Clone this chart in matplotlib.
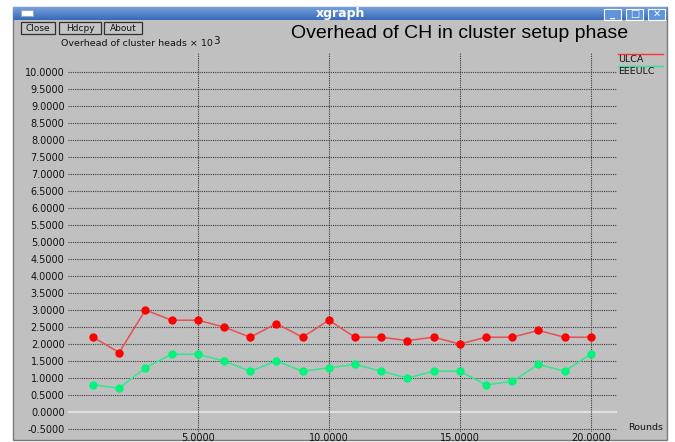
import numpy as np
import matplotlib.pyplot as plt
from matplotlib.patches import Rectangle

plt.rcParams['font.family'] = ['DejaVu Sans']

# data
rounds = list(range(1, 21))
ulca = [2.2, 1.75, 3.0, 2.7, 2.7, 2.5, 2.2, 2.6, 2.2, 2.7,
        2.2, 2.2, 2.1, 2.2, 2.0, 2.2, 2.2, 2.4, 2.2, 2.2]
eeeulc = [0.8, 0.7, 1.3, 1.7, 1.7, 1.5, 1.2, 1.5, 1.2, 1.3,
          1.4, 1.2, 1.0, 1.2, 1.2, 0.8, 0.9, 1.4, 1.2, 1.7]
yticks = np.arange(-0.5, 10.01, 0.5)
xticks = [5, 10, 15, 20]
series_names = ['ULCA', 'EEEULC']

W, H = 675, 442
fig = plt.figure(figsize=(W / 100, H / 100), dpi=100)
fig.patch.set_facecolor('white')

# window chrome, drawn in pixel coords
bg = fig.add_axes([0, 0, 1, 1])
bg.set_xlim(0, W)
bg.set_ylim(H, 0)
bg.axis('off')

bg.add_patch(Rectangle((13, 7), 654, 433, facecolor='#c0c0c0', edgecolor='#7a7a7a', lw=1))
top_c = np.array([0.45, 0.62, 0.86])
bot_c = np.array([0.22, 0.42, 0.72])
for i in range(13):
    c = top_c + (bot_c - top_c) * i / 12
    bg.add_patch(Rectangle((13, 7 + i), 654, 1.05, facecolor=c, edgecolor='none'))
bg.add_patch(Rectangle((21, 10), 12, 6, facecolor='white', edgecolor='#9aa8c0', lw=0.8))
bg.text(340, 13.5, 'xgraph', color='white', fontsize=9, fontweight='bold',
        ha='center', va='center')
for x0, glyph in zip([604, 626, 648], ['_', '□', '✕']):
    bg.add_patch(Rectangle((x0, 8.5), 17, 11, facecolor='#5f93dc', edgecolor='white', lw=0.8))
    bg.text(x0 + 8.5, 14, glyph, color='white', fontsize=7, fontweight='bold',
            ha='center', va='center')

for (x0, x1), lab in zip([(21, 55), (59, 101), (104, 142)], ['Close', 'Hdcpy', 'About']):
    bg.add_patch(Rectangle((x0, 22), x1 - x0, 12, facecolor='#c4c4c4', edgecolor='#303030', lw=0.9))
    bg.text((x0 + x1) / 2, 28.3, lab, fontsize=6.5, ha='center', va='center', color='#111111')

bg.text(291, 34, 'Overhead of CH in cluster setup phase', fontsize=14,
        ha='left', va='center', color='black', family=['Liberation Sans'])
yl = bg.text(61, 43.5, 'Overhead of cluster heads × 10', fontsize=6.8,
             ha='left', va='center', color='#111111')
bg.annotate('3', xy=(1, 0.8), xycoords=yl, fontsize=7.5, ha='left', va='center',
            color='#111111')

# legend at the right
bg.plot([618, 663], [54, 54], color='#ff3030', lw=1)
bg.text(618, 59.5, series_names[0], fontsize=6.8, ha='left', va='center', color='#111111')
bg.plot([618, 663], [65.5, 65.5], color='#30e890', lw=1)
bg.text(618, 71.5, series_names[1], fontsize=6.8, ha='left', va='center', color='#111111')
bg.text(628, 427, 'Rounds', fontsize=6.8, ha='left', va='center', color='#111111')

# plotting area
L, T, R, B = 68, 52, 617, 432
ax = fig.add_axes([L / W, 1 - B / H, (R - L) / W, (B - T) / H])
ax.set_facecolor('none')
ax.set_xlim(0.046, 21.0)
ax.set_ylim(-0.588, 10.588)
for s in ax.spines.values():
    s.set_visible(False)

for y in yticks:
    if abs(y) < 1e-9:
        ax.axhline(y, color='#e8e8e8', lw=1.2, zorder=1)
    else:
        ax.axhline(y, color='#3a3a3a', lw=0.8, ls=(0, (1, 1)), zorder=1)
for x in xticks:
    ax.axvline(x, color='#3a3a3a', lw=0.8, ls=(0, (1, 1)), zorder=1)

ax.plot(rounds, ulca, color='#e85050', lw=1.1, marker='o', ms=5,
        mfc='#ff0000', mec='#ff0000', zorder=3)
ax.plot(rounds, eeeulc, color='#30e890', lw=1.1, marker='o', ms=5,
        mfc='#00f57a', mec='#00f57a', zorder=3)

ax.set_yticks(yticks)
ax.set_yticklabels(['%.4f' % v for v in yticks])
ax.set_xticks(xticks)
ax.set_xticklabels(['%.4f' % v for v in xticks])
ax.tick_params(length=0, labelsize=7, colors='#111111')
ax.tick_params(axis='y', pad=2.5)
ax.tick_params(axis='x', pad=0.5)

fig.savefig('out.png', dpi=100)
